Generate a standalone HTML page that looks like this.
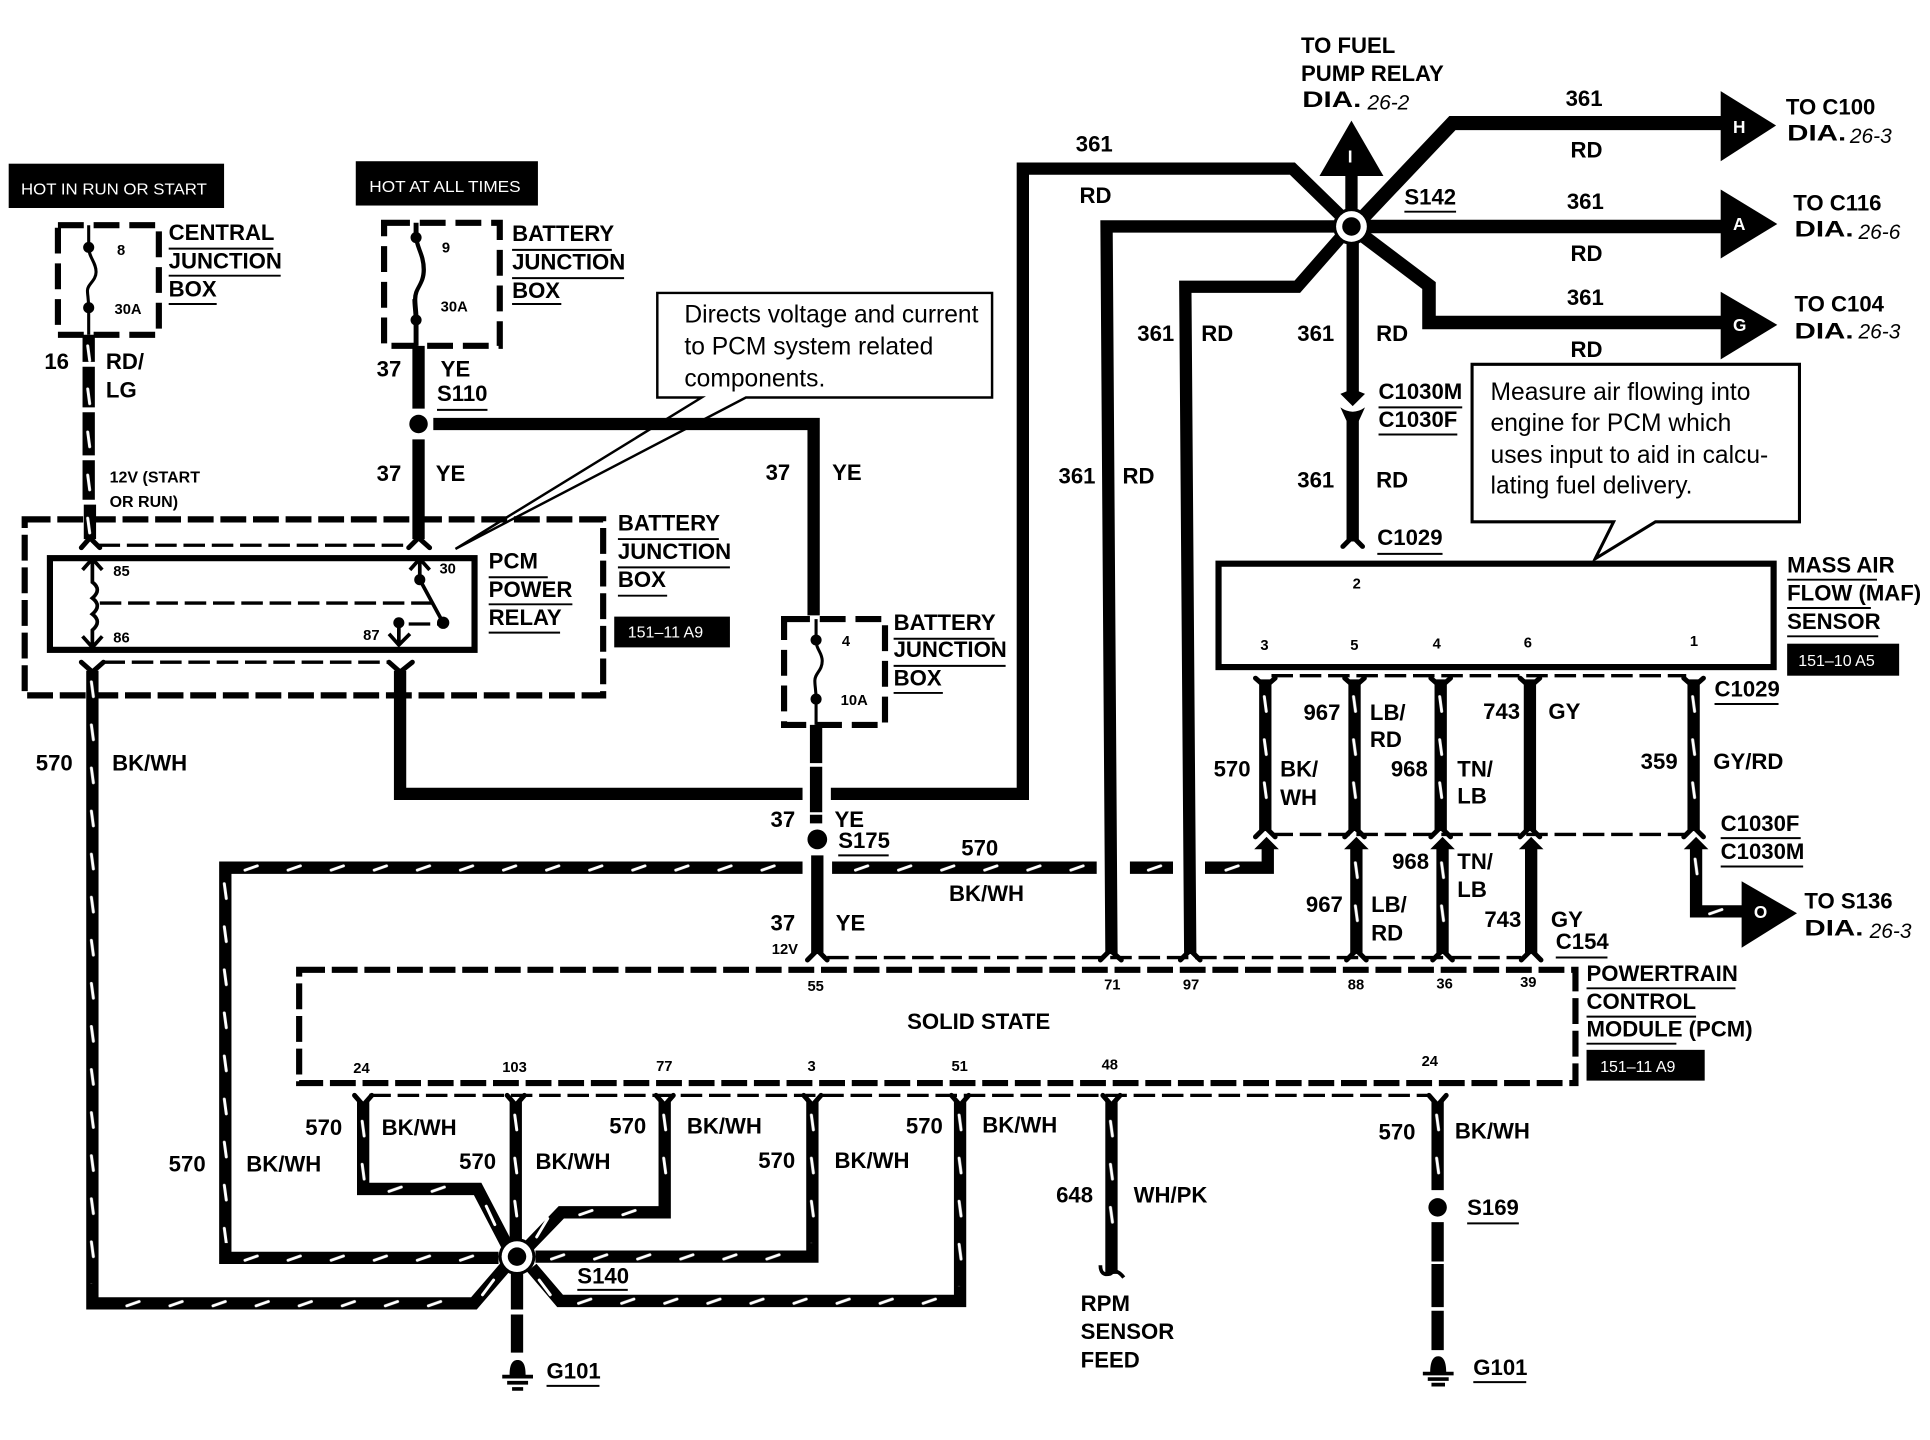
<!DOCTYPE html>
<html>
<head>
<meta charset="utf-8">
<title>PCM wiring diagram</title>
<style>
html,body{margin:0;padding:0;background:#fff}
svg{display:block}
text{font-family:"Liberation Sans",sans-serif;font-weight:bold;font-size:18px;fill:#000}
.s{font-size:12px}
.m{font-size:13px}
.w{fill:#fff;font-size:13px;font-weight:normal}
.c{font-weight:normal;font-size:20px}
.i{font-weight:normal;font-style:italic;font-size:17px}
.wl{fill:#fff;font-size:14px}
.wire{fill:none;stroke:#000;stroke-width:10;stroke-linejoin:miter}
.tick{fill:none;stroke:#fff;stroke-width:2.4;stroke-linecap:round}
.db{fill:none;stroke:#000;stroke-width:5;stroke-dasharray:21 5.500}
.ds{fill:none;stroke:#000;stroke-width:5;stroke-dasharray:21 8}
.dt{fill:none;stroke:#000;stroke-width:2.7;stroke-dasharray:17.500 5.500}
.ul{fill:none;stroke:#000;stroke-width:1.6}
.fork{fill:none;stroke:#000;stroke-width:4;stroke-linecap:round;stroke-linejoin:round}
.tv{fill:url(#tv)}
.th{fill:url(#th)}
</style>
</head>
<body>
<svg xmlns="http://www.w3.org/2000/svg" width="1930" height="1440" viewBox="0 0 1568 1170">
<defs>
<pattern id="tv" patternUnits="userSpaceOnUse" width="10" height="35"><path d="M4.200,6L5.800,18" stroke="#fff" stroke-width="2.400" stroke-linecap="round" fill="none"/></pattern>
<pattern id="th" patternUnits="userSpaceOnUse" width="35" height="10"><path d="M2,7L12,3.500" stroke="#fff" stroke-width="2.400" stroke-linecap="round" fill="none"/></pattern>
</defs>
<rect width="1568" height="1170" fill="#fff"/>

<!-- black tags -->
<rect x="7" y="133" width="175" height="36"/>
<rect x="289" y="131" width="148" height="36"/>
<rect x="499" y="501" width="94" height="25"/>
<rect x="1452" y="523" width="91" height="26"/>
<rect x="1289" y="853" width="96" height="25"/>
<text class="w" x="17" y="158" textLength="151" lengthAdjust="spacingAndGlyphs">HOT IN RUN OR START</text>
<text class="w" x="300" y="156" textLength="123" lengthAdjust="spacingAndGlyphs">HOT AT ALL TIMES</text>
<text class="w" x="510" y="518">151–11 A9</text>
<text class="w" x="1461" y="541">151–10 A5</text>
<text class="w" x="1300" y="871">151–11 A9</text>

<!-- callouts (behind wires) -->
<path d="M534,238H806V323H606L370,446L570,323H534Z" fill="#fff" stroke="#000" stroke-width="2"/>
<path d="M1196,296H1462V424H1345L1296,454L1311,424H1196Z" fill="#fff" stroke="#000" stroke-width="2.500"/>

<!-- dashed boxes -->
<rect class="ds" x="47" y="183" width="82" height="89"/>
<rect class="ds" x="312" y="181" width="94" height="100"/>
<rect class="db" x="20" y="422" width="470" height="143"/>
<rect class="ds" x="637" y="503" width="82" height="86"/>
<rect class="db" x="243" y="788" width="1037" height="92"/>

<!-- thin dashed connector bars -->
<path class="dt" d="M80,443H333M84,538H316M1033,549H1370M1033,678H1370M672,778H1236M300,890H1161"/>
<path class="dt" d="M81,490H351M332,507H358"/>

<!-- fuses -->
<path d="M72,183V201c0,8 6,12 6,20c0,7 -7,10 -7,15c0,4 1,7 1,15V272" fill="none" stroke="#000" stroke-width="2.500"/>
<path d="M338,181V193c0,8 6,14 6,26c0,12 -7,14 -7,24c0,6 1,10 1,17V281" fill="none" stroke="#000" stroke-width="4"/>
<path d="M336,193c0,8 6,14 6,26c0,12 -7,14 -7,24" fill="none" stroke="#fff" stroke-width="1"/>
<path d="M663,503V520c0,8 5,10 5,17c0,8 -6,10 -6,16c0,5 1,8 1,15V589" fill="none" stroke="#000" stroke-width="2.500"/>
<circle cx="72" cy="201" r="4.500"/><circle cx="72" cy="250" r="4.500"/>
<circle cx="338" cy="193" r="4.500"/><circle cx="338" cy="260" r="4.500"/>
<circle cx="663" cy="520" r="4.500"/><circle cx="663" cy="568" r="4.500"/>

<!-- relay -->
<rect x="40.500" y="453.500" width="345" height="74.500" fill="none" stroke="#000" stroke-width="5"/>
<path d="M75,455V473q8,6 0,13q8,6 0,13q8,6 0,13V526M67,463L75,454L83,463M67,517L75,526L83,517" fill="none" stroke="#000" stroke-width="3"/>
<path d="M341,455V471L360,506M333,463L341,454L349,463M324,506V524M316,515L324,524L333,515" fill="none" stroke="#000" stroke-width="3"/>
<circle cx="341" cy="471" r="4.500"/><circle cx="360" cy="506" r="5"/><circle cx="324" cy="506" r="4.500"/>

<!-- MAF box -->
<rect x="990" y="458" width="451" height="84" fill="none" stroke="#000" stroke-width="5"/>

<!-- solid wires -->
<path class="wire" d="M340,281V332M340,357V438M352,344.500H661V500"/>
<path class="wire" d="M663,589V620M663,623V660M663,662V669M664,695V775"/>
<path class="wire" d="M325,545V645H652M675,645H831V137H1050L1090,176"/>
<path class="wire" d="M1090,184H899L903,775"/>
<path class="wire" d="M1090,192L1054,233H963L967,775"/>
<path class="wire" style="stroke-width:11.500" d="M1108,176L1180,100H1400"/>
<path class="wire" style="stroke-width:11" d="M1108,184H1400"/>
<path class="wire" style="stroke-width:11" d="M1108,192L1161,232V262H1400"/>
<path class="wire" d="M1098,143V172M1099,196V322M1099,338V440"/>
<path class="wire" d="M1243,552V675M1244,688V775"/>

<!-- striped wires -->
<path class="wire" d="M72,272V294M72,298V331M72,335V370M72,374V406M73,410V438"/>
<path class="wire" d="M75,545V1059H385L410,1030"/>
<path class="wire" d="M652,705H183V1022H405"/>
<path class="wire" d="M676,705H891M918,705H953M979,705H1030V688"/>
<path class="wire" d="M1028,552V675M1100.500,552V675M1102,688V775M1170.500,552V675M1172,688V775M1376,552V675"/>
<path class="wire" d="M1378,688V740.500H1420"/>
<path class="wire" d="M295,895V966H388L412,1012"/>
<path class="wire" d="M419,895V1012"/>
<path class="wire" d="M540,895V985H456L430,1012"/>
<path class="wire" d="M660,895V1021H435"/>
<path class="wire" d="M780,895V1057H455L432,1030"/>
<path class="wire" d="M903,895V1035"/>
<path class="wire" d="M1168,895V967M1168,993V1025M1168,1027V1062M1168,1065V1097"/>
<path class="wire" d="M420,1032V1064M420,1068V1099"/>

<!-- white ticks on vertical wires -->
<rect class="tv" transform="translate(67,275)" width="10" height="165"/>
<rect class="tv" transform="translate(70,548)" width="10" height="495"/>
<rect class="tv" transform="translate(178,712)" width="10" height="298"/>
<rect class="tv" transform="translate(290,905)" width="10" height="55"/>
<rect class="tv" transform="translate(414,900)" width="10" height="105"/>
<rect class="tv" transform="translate(535,900)" width="10" height="72"/>
<rect class="tv" transform="translate(655,900)" width="10" height="110"/>
<rect class="tv" transform="translate(775,900)" width="10" height="145"/>
<rect class="tv" transform="translate(898,905)" width="10" height="105"/>
<rect class="tv" transform="translate(1163,900)" width="10" height="70"/>
<rect class="tv" transform="translate(1023,560)" width="10" height="105"/>
<rect class="tv" transform="translate(1095.500,560)" width="10" height="105"/>
<rect class="tv" transform="translate(1165.500,560)" width="10" height="105"/>
<rect class="tv" transform="translate(1371,560)" width="10" height="105"/>
<rect class="tv" transform="translate(1097,695)" width="10" height="70"/>
<rect class="tv" transform="translate(1167,695)" width="10" height="70"/>
<rect class="tv" transform="translate(1373,692)" width="10" height="36"/>

<!-- white ticks on horizontal wires -->
<rect class="th" transform="translate(197,700)" width="450" height="10"/>
<rect class="th" transform="translate(693,700)" width="195" height="10"/>
<rect class="th" transform="translate(931,700)" width="16" height="10"/>
<rect class="th" transform="translate(994,700)" width="16" height="10"/>
<rect class="th" transform="translate(197,1017)" width="200" height="10"/>
<rect class="th" transform="translate(446,1016)" width="205" height="10"/>
<rect class="th" transform="translate(101,1054)" width="275" height="10"/>
<rect class="th" transform="translate(468,1052)" width="305" height="10"/>
<rect class="th" transform="translate(314,961)" width="70" height="10"/>
<rect class="th" transform="translate(469,980)" width="70" height="10"/>
<rect class="th" transform="translate(1387,735.500)" width="16" height="10"/>
<path class="tick" d="M395,980L402,995M445,990L436,1005M401,1040L392,1052M438,1040L447,1052"/>

<!-- forks -->
<path class="fork" d="M66,445L73,437L81,445M332,445L340,437L349,445M66,538L75,546L84,538M316,538L325,546L335,538"/>
<path class="fork" d="M1020,551L1028,558L1036,551M1092.500,551L1100.500,558L1108.500,551M1162.500,551L1170.500,558L1178.500,551M1235,551L1243,558L1251,551M1368,551L1376,558L1384,551"/>
<path class="fork" d="M1020,680L1028,672L1036,680M1092.500,680L1100.500,672L1108.500,680M1162.500,680L1170.500,672L1178.500,680M1235,680L1243,672L1251,680M1368,680L1376,672L1384,680"/>
<path class="fork" d="M656,780L664,772L672,780M894,780L902,772L911,780M959,780L967,772L975,780M1094,780L1102,772L1110,780M1164,780L1172,772L1180,780M1236,780L1244,772L1252,780"/>
<path class="fork" d="M288,890L295,898L302,890M412,890L419,898L426,890M533,890L540,898L547,890M653,890L660,898L667,890M773,890L780,898L787,890M896,890L903,898L910,890M1161,890L1168,898L1175,890"/>
<path class="fork" d="M1091,444L1099,436L1107,444"/>
<path d="M894,1028q0,9 8,7q5,-5 11,3" fill="none" stroke="#000" stroke-width="3"/>

<!-- C1030 connector on the 361 wire -->
<path d="M1089,320L1099,330L1109,320L1104,318H1094Z"/>
<path d="M1089,331Q1099,338 1109,331L1104,342H1094Z"/>

<!-- arrowheads up into connector -->
<path d="M1029,680L1039,690H1019ZM1102,680L1112,690H1092ZM1172,680L1182,690H1162ZM1244,680L1254,690H1234ZM1378,680L1388,690H1368Z"/>

<!-- splice dots -->
<circle cx="340" cy="344.500" r="7.500"/>
<circle cx="664" cy="682" r="8"/>
<circle cx="1168" cy="981" r="7.500"/>

<!-- nodes -->
<circle cx="1098" cy="184" r="15"/><circle cx="1098" cy="184" r="12.500" fill="#fff"/><circle cx="1098" cy="184" r="7.500"/>
<circle cx="420" cy="1021" r="15"/><circle cx="420" cy="1021" r="12.500" fill="#fff"/><circle cx="420" cy="1021" r="7.500"/>

<!-- off-page triangles -->
<path d="M1098,98L1124,143H1072Z"/>
<path d="M1398,74L1443,102L1398,131Z"/>
<path d="M1398,154L1444,182L1398,210Z"/>
<path d="M1398,237L1444,264L1398,292Z"/>
<path d="M1415,716L1460,742L1415,770Z"/>
<text class="wl" x="1095" y="132">I</text>
<text class="wl" x="1408" y="108">H</text>
<text class="wl" x="1408" y="187">A</text>
<text class="wl" x="1408" y="269">G</text>
<text class="wl" x="1425" y="746">O</text>

<!-- callout text -->
<text class="c" x="556" y="262">Directs voltage and current</text>
<text class="c" x="556" y="288">to PCM system related</text>
<text class="c" x="556" y="314">components.</text>
<text class="c" x="1211" y="325">Measure air flowing into</text>
<text class="c" x="1211" y="350">engine for PCM which</text>
<text class="c" x="1211" y="376">uses input to aid in calcu-</text>
<text class="c" x="1211" y="401">lating fuel delivery.</text>

<!-- grounds -->
<path d="M414,1117c0,-8 2,-12 6.500,-12s6.500,4 6.500,12ZM408,1117h25v3h-25ZM412,1122h17v3h-17ZM416,1127h9v3h-9Z"/>
<path d="M1162,1115c0,-8 2,-13 6.500,-13s6.500,5 6.500,13ZM1156,1114.500h25v3h-25ZM1160,1119h17v3h-17ZM1163,1123.500h11v3h-11Z"/>

<!-- underlines -->
<path class="ul" d="M137,202H222M137,224H228M137,247H176M416,203H497M416,226H507M416,247H456M355,333H396M397,469H445M397,491H465M397,514H455M502,438H584M502,461H593M502,484H542M726,519H808M726,541H817M726,563H766M1141,172H1183M1120,331H1188M1120,353H1184M1119,450H1172M1452,471H1525M1452,494H1520M1452,517H1526M1393,572H1445M1398,681H1463M1398,704H1465M1264,778H1306M681,695H722M1289,803H1410M1289,826H1378M1289,848H1362M469,1048H510M444,1126H487M1192,994H1234M1197,1123H1240"/>

<!-- labels top left -->
<text x="137" y="195">CENTRAL</text>
<text x="137" y="218">JUNCTION</text>
<text x="137" y="241">BOX</text>
<text x="416" y="196">BATTERY</text>
<text x="416" y="219">JUNCTION</text>
<text x="416" y="242">BOX</text>
<text class="s" x="95" y="207">8</text>
<text class="s" x="93" y="255">30A</text>
<text class="s" x="359" y="205">9</text>
<text class="s" x="358" y="253">30A</text>
<text x="36" y="300">16</text>
<text x="86" y="300">RD/</text>
<text x="86" y="323">LG</text>
<text class="m" x="89" y="392">12V (START</text>
<text class="m" x="89" y="412">OR RUN)</text>
<text x="306" y="306">37</text>
<text x="358" y="306">YE</text>
<text x="355" y="326">S110</text>
<text x="306" y="391">37</text>
<text x="354" y="391">YE</text>
<text x="622" y="390">37</text>
<text x="676" y="390">YE</text>

<text class="s" x="92" y="468">85</text>
<text class="s" x="92" y="522">86</text>
<text class="s" x="357" y="466">30</text>
<text class="s" x="295" y="520">87</text>
<text x="397" y="462">PCM</text>
<text x="397" y="485">POWER</text>
<text x="397" y="508">RELAY</text>
<text x="502" y="431">BATTERY</text>
<text x="502" y="454">JUNCTION</text>
<text x="502" y="477">BOX</text>
<text class="s" x="684" y="525">4</text>
<text class="s" x="683" y="573">10A</text>
<text x="726" y="512">BATTERY</text>
<text x="726" y="534">JUNCTION</text>
<text x="726" y="557">BOX</text>
<text x="626" y="672">37</text>
<text x="678" y="672">YE</text>
<text x="681" y="689">S175</text>
<text x="626" y="756">37</text>
<text class="s" x="627" y="775">12V</text>
<text x="679" y="756">YE</text>
<text x="781" y="695">570</text>
<text x="771" y="732">BK/WH</text>
<text x="29" y="626">570</text>
<text x="91" y="626">BK/WH</text>

<!-- top right labels -->
<text x="874" y="123">361</text>
<text x="877" y="165">RD</text>
<text x="860" y="393">361</text>
<text x="912" y="393">RD</text>
<text x="924" y="277">361</text>
<text x="976" y="277">RD</text>
<text x="1054" y="277">361</text>
<text x="1118" y="277">RD</text>
<text x="1054" y="396">361</text>
<text x="1118" y="396">RD</text>
<text x="1120" y="324">C1030M</text>
<text x="1120" y="347">C1030F</text>
<text x="1119" y="443">C1029</text>
<text x="1141" y="166">S142</text>
<text x="1057" y="43">TO FUEL</text>
<text x="1057" y="66">PUMP RELAY</text>
<text x="1058" y="87" textLength="48" lengthAdjust="spacingAndGlyphs">DIA.</text>
<text class="i" x="1111" y="89">26-2</text>
<text x="1272" y="86">361</text>
<text x="1276" y="128">RD</text>
<text x="1273" y="170">361</text>
<text x="1276" y="212">RD</text>
<text x="1273" y="248">361</text>
<text x="1276" y="290">RD</text>
<text x="1451" y="93">TO C100</text>
<text x="1452" y="114" textLength="48" lengthAdjust="spacingAndGlyphs">DIA.</text>
<text class="i" x="1503" y="116">26-3</text>
<text x="1457" y="171">TO C116</text>
<text x="1458" y="192" textLength="48" lengthAdjust="spacingAndGlyphs">DIA.</text>
<text class="i" x="1510" y="194">26-6</text>
<text x="1458" y="253">TO C104</text>
<text x="1458" y="275" textLength="48" lengthAdjust="spacingAndGlyphs">DIA.</text>
<text class="i" x="1510" y="275">26-3</text>

<!-- MAF labels -->
<text class="s" x="1099" y="478">2</text>
<text class="s" x="1024" y="528">3</text>
<text class="s" x="1097" y="528">5</text>
<text class="s" x="1164" y="527">4</text>
<text class="s" x="1238" y="526">6</text>
<text class="s" x="1373" y="525">1</text>
<text x="1452" y="465">MASS AIR</text>
<text x="1452" y="488">FLOW (MAF)</text>
<text x="1452" y="511">SENSOR</text>
<text x="1059" y="585">967</text>
<text x="1113" y="585">LB/</text>
<text x="1113" y="607">RD</text>
<text x="986" y="631">570</text>
<text x="1040" y="631">BK/</text>
<text x="1040" y="654">WH</text>
<text x="1130" y="631">968</text>
<text x="1184" y="631">TN/</text>
<text x="1184" y="653">LB</text>
<text x="1205" y="584">743</text>
<text x="1258" y="584">GY</text>
<text x="1333" y="625">359</text>
<text x="1392" y="625">GY/RD</text>
<text x="1393" y="566">C1029</text>
<text x="1398" y="675">C1030F</text>
<text x="1398" y="698">C1030M</text>
<text x="1131" y="706">968</text>
<text x="1184" y="706">TN/</text>
<text x="1184" y="729">LB</text>
<text x="1061" y="741">967</text>
<text x="1114" y="741">LB/</text>
<text x="1114" y="764">RD</text>
<text x="1206" y="753">743</text>
<text x="1260" y="753">GY</text>
<text x="1264" y="771">C154</text>
<text x="1466" y="738">TO S136</text>
<text x="1466" y="760" textLength="48" lengthAdjust="spacingAndGlyphs">DIA.</text>
<text class="i" x="1519" y="762">26-3</text>

<!-- PCM labels -->
<text class="s" x="656" y="805">55</text>
<text class="s" x="897" y="804">71</text>
<text class="s" x="961" y="804">97</text>
<text class="s" x="1095" y="804">88</text>
<text class="s" x="1167" y="803">36</text>
<text class="s" x="1235" y="802">39</text>
<text class="s" x="287" y="872">24</text>
<text class="s" x="408" y="871">103</text>
<text class="s" x="533" y="870">77</text>
<text class="s" x="656" y="870">3</text>
<text class="s" x="773" y="870">51</text>
<text class="s" x="895" y="869">48</text>
<text class="s" x="1155" y="866">24</text>
<text x="737" y="836">SOLID STATE</text>
<text x="1289" y="797">POWERTRAIN</text>
<text x="1289" y="820">CONTROL</text>
<text x="1289" y="842">MODULE (PCM)</text>

<!-- bottom labels -->
<text x="137" y="952">570</text>
<text x="200" y="952">BK/WH</text>
<text x="248" y="922">570</text>
<text x="310" y="922">BK/WH</text>
<text x="373" y="950">570</text>
<text x="435" y="950">BK/WH</text>
<text x="495" y="921">570</text>
<text x="558" y="921">BK/WH</text>
<text x="616" y="949">570</text>
<text x="678" y="949">BK/WH</text>
<text x="736" y="921">570</text>
<text x="798" y="920">BK/WH</text>
<text x="469" y="1043">S140</text>
<text x="444" y="1120">G101</text>
<text x="858" y="977">648</text>
<text x="921" y="977">WH/PK</text>
<text x="878" y="1065">RPM</text>
<text x="878" y="1088">SENSOR</text>
<text x="878" y="1111">FEED</text>
<text x="1120" y="926">570</text>
<text x="1182" y="925">BK/WH</text>
<text x="1192" y="987">S169</text>
<text x="1197" y="1117">G101</text>
</svg>
</body>
</html>
